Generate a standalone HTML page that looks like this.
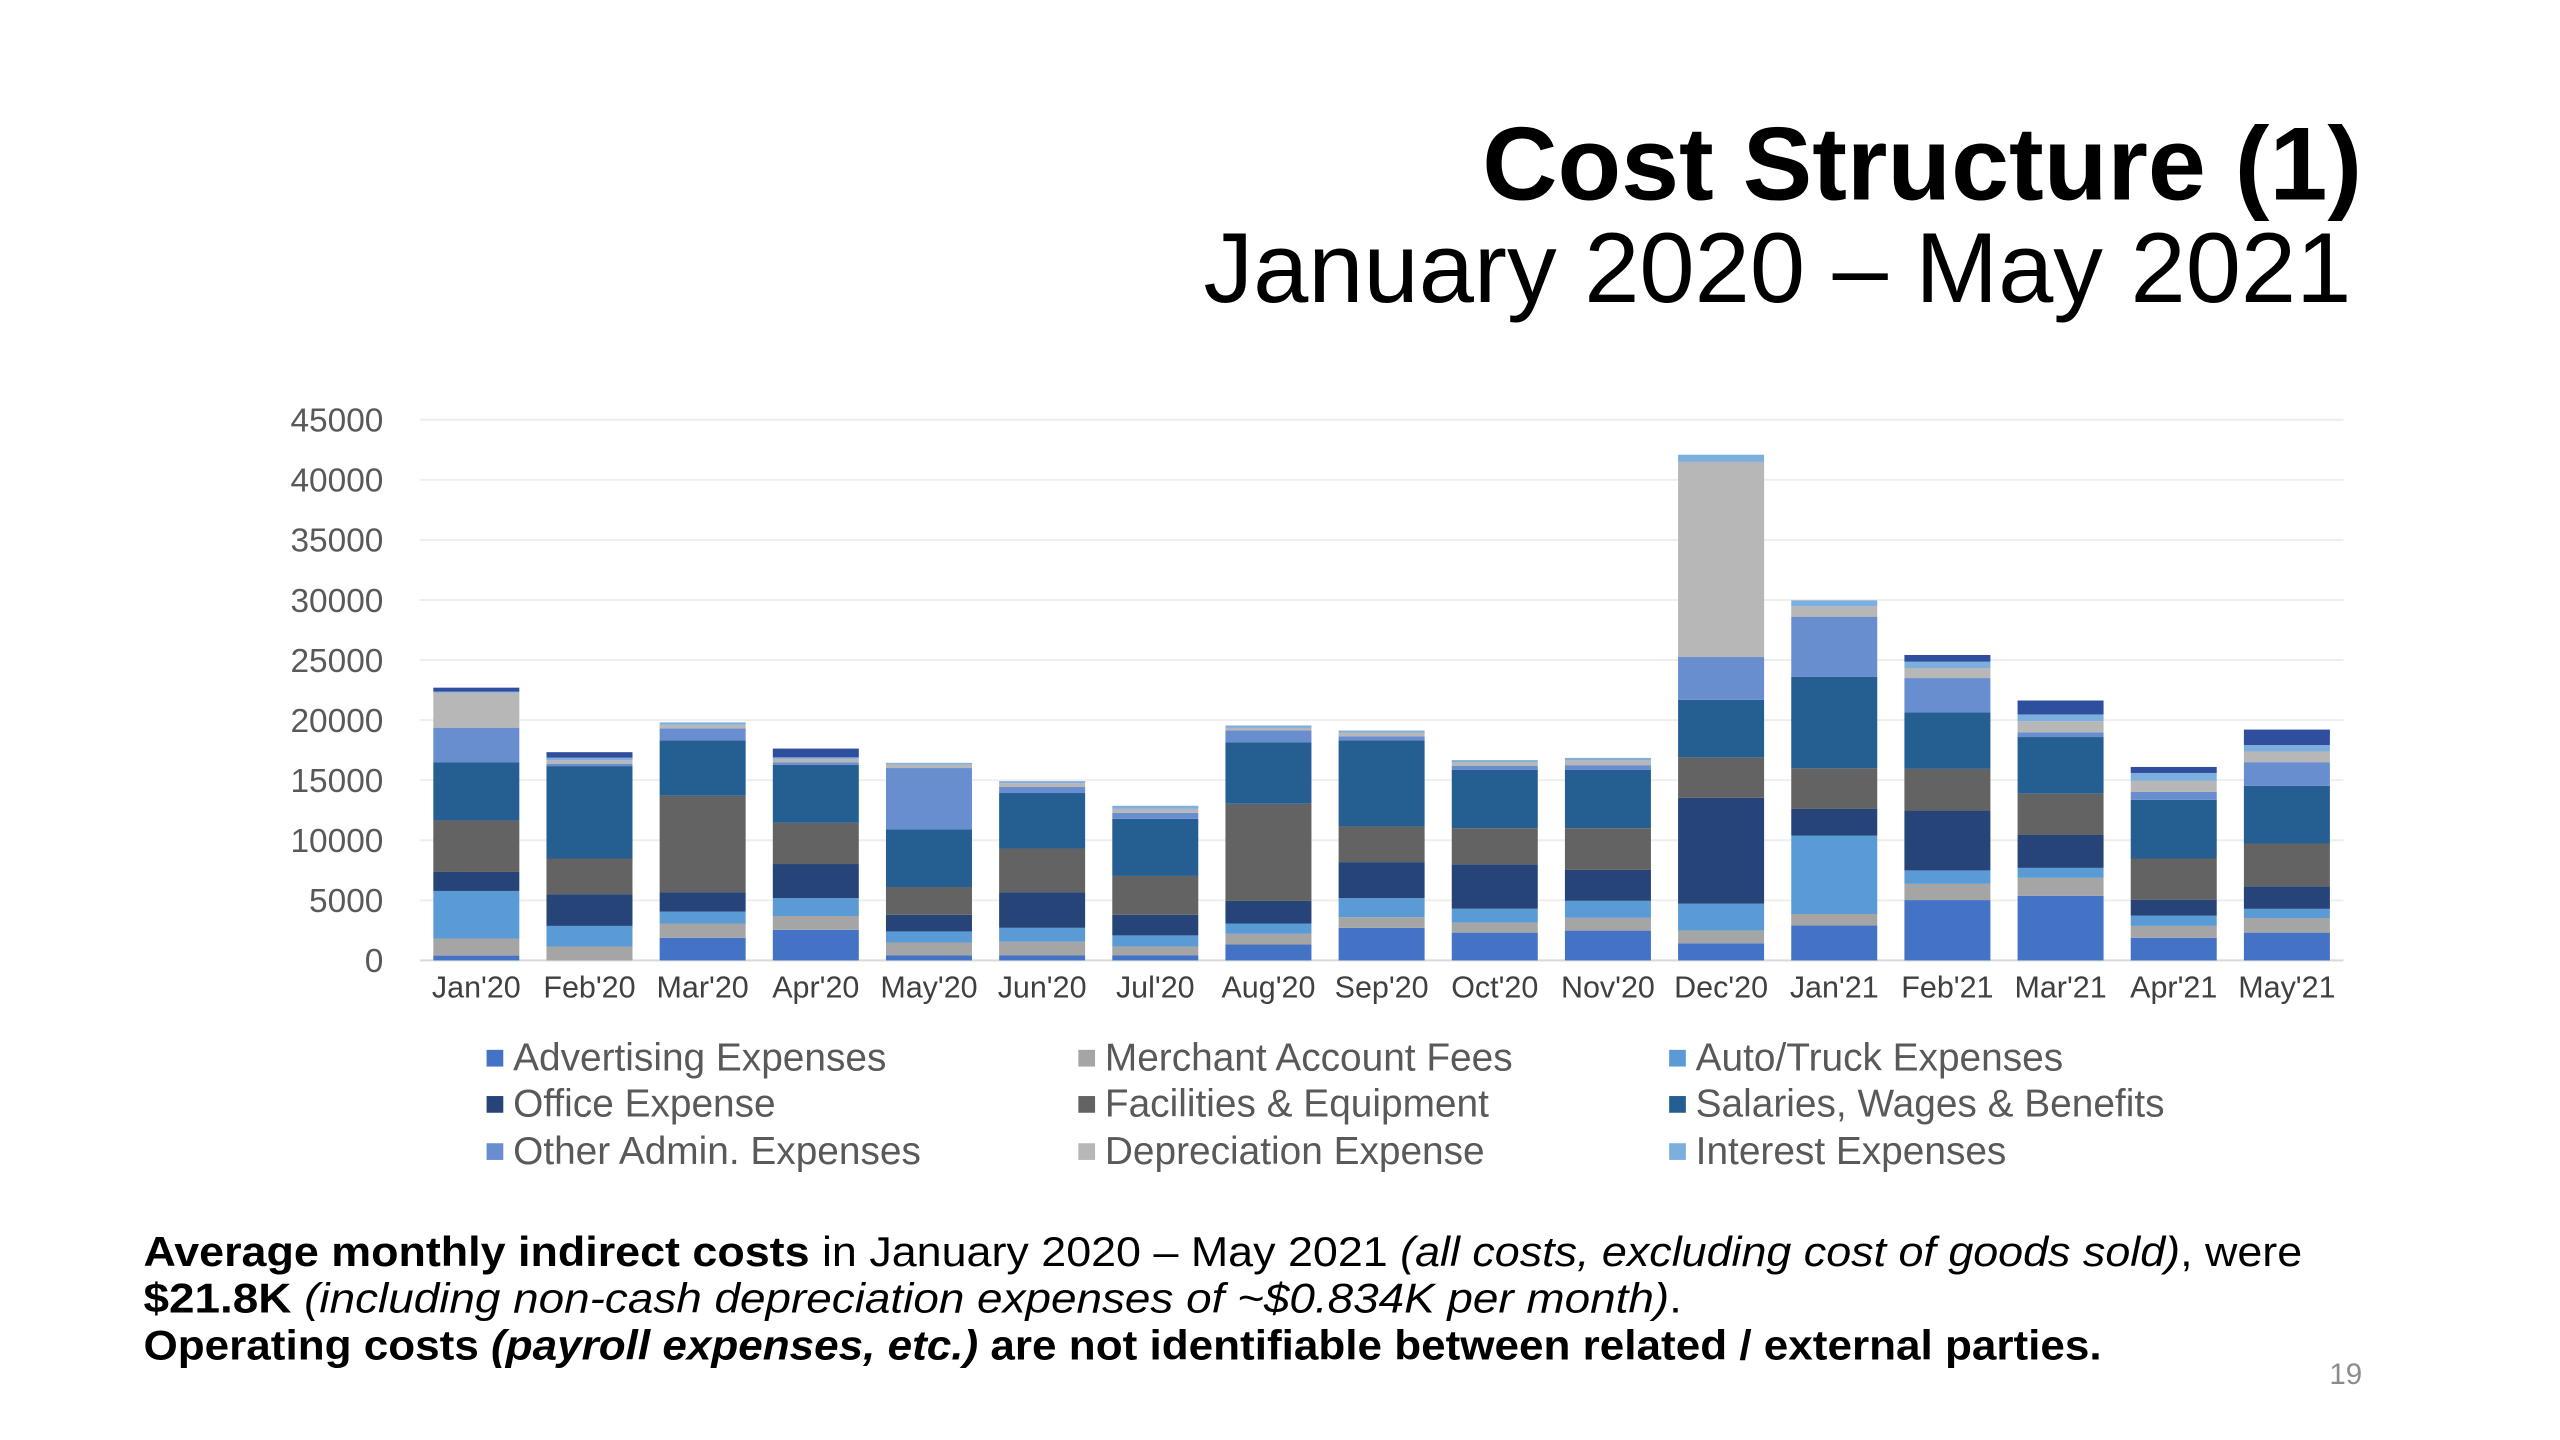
<!DOCTYPE html>
<html><head><meta charset="utf-8"><style>
html,body{margin:0;padding:0;background:#fff;}
svg{display:block;font-family:"Liberation Sans",sans-serif;}
</style></head><body>
<svg id="chart" width="2560" height="1440" viewBox="0 0 2560 1440" xmlns="http://www.w3.org/2000/svg">
<g transform="scale(0.983)">
<text x="2403" y="203" text-anchor="end" font-size="106" font-weight="bold" fill="#000">Cost Structure (1)</text>
<text x="2392" y="307" text-anchor="end" font-size="101" fill="#000">January 2020 – May 2021</text>
<g id="grid"></g>
<g id="yticks"></g>
<g id="bars"></g>
<g id="xticks"></g>
<g id="legend"></g>
<text x="146" y="1288" font-size="42" fill="#000" textLength="2196" lengthAdjust="spacingAndGlyphs"><tspan font-weight="bold">Average monthly indirect costs</tspan> in January 2020 – May 2021 <tspan font-style="italic">(all costs, excluding cost of goods sold)</tspan>, were</text>
<text x="146" y="1335" font-size="42" fill="#000" textLength="1565" lengthAdjust="spacingAndGlyphs"><tspan font-weight="bold">$21.8K</tspan> <tspan font-style="italic">(including non-cash depreciation expenses of ~$0.834K per month)</tspan>.</text>
<text x="146" y="1383" font-size="42" font-weight="bold" fill="#000" textLength="1992" lengthAdjust="spacingAndGlyphs">Operating costs <tspan font-style="italic">(payroll expenses, etc.)</tspan> are not identifiable between related / external parties.</text>
<text x="2403" y="1408" text-anchor="end" font-size="30" fill="#8c8c8c">19</text>
</g>
</svg>
<script>
const categories=["Jan'20","Feb'20","Mar'20","Apr'20","May'20","Jun'20","Jul'20","Aug'20","Sep'20","Oct'20","Nov'20","Dec'20","Jan'21","Feb'21","Mar'21","Apr'21","May'21"];
const advertising=[400,0,1880,2540,430,430,430,1320,2710,2310,2480,1420,2900,5020,5380,1880,2310];
const merchant=[1420,1155,1190,1155,1060,1120,730,890,890,830,1060,1060,960,1350,1490,990,1220];
const autoTruck=[3960,1716,990,1485,920,1160,920,860,1580,1160,1420,2240,6530,1120,830,860,760];
const office=[1580,2640,1620,2840,1390,2970,1720,1880,3000,3700,2570,8810,2240,4980,2770,1320,1880];
const facilities=[4290,2970,8020,3430,2310,3630,3230,8090,2970,3000,3470,3370,3370,3470,3400,3430,3560];
const salaries=[4820,7690,4620,4820,4790,4620,4750,5120,7160,4850,4850,4790,7590,4690,4720,4880,4790];
const otherAdmin=[2900,200,990,200,5110,500,500,990,330,330,400,3560,5020,2870,400,660,1980];
const depreciation=[2900,300,300,300,300,330,330,200,330,330,400,16240,860,830,920,920,890];
const interest=[100,200,200,130,130,160,260,200,160,160,200,600,500,530,560,660,530];
const otherTop=[330,460,0,730,0,0,0,0,0,0,0,0,0,560,1160,500,1290];
const yTicks=[0,5000,10000,15000,20000,25000,30000,35000,40000,45000];
const seriesNames=["Advertising Expenses","Merchant Account Fees","Auto/Truck Expenses","Office Expense","Facilities & Equipment","Salaries, Wages & Benefits","Other Admin. Expenses","Depreciation Expense","Interest Expenses"];

const series=[advertising,merchant,autoTruck,office,facilities,salaries,otherAdmin,depreciation,interest,otherTop];
const colors=["#4472C4","#A5A5A5","#5B9BD5","#264478","#636363","#255E91","#698ED0","#B7B7B7","#7CAFDD","#2F4E9E"];
const slugs=["advertising","merchant-fees","auto-truck","office","facilities","salaries","other-admin","depreciation","interest","other"];
const NS="http://www.w3.org/2000/svg";
const X0=427,X1=2384,Y0=977,Y1=427,YMAX=45000;
const band=(X1-X0)/categories.length, bw=band*0.76;
const y=v=>Y0-(v/YMAX)*(Y0-Y1);
const xc=i=>X0+band*(i+0.5);
function mk(tag,attrs,parent){const e=document.createElementNS(NS,tag);for(const k in attrs)e.setAttribute(k,attrs[k]);parent.appendChild(e);return e;}
const grid=document.getElementById('grid'),yt=document.getElementById('yticks'),bars=document.getElementById('bars'),xt=document.getElementById('xticks'),lg=document.getElementById('legend');
yTicks.forEach(t=>{
  const l=mk('line',{x1:X0,x2:X1,y1:y(t),y2:y(t),stroke:t===0?'#d9d9d9':'#eeeeee','stroke-width':2},grid);
  
  
  const tx=mk('text',{x:390,y:y(t)+12,'text-anchor':'end','font-size':34,fill:'#595959'},yt);
  tx.textContent=t;
  
  
});
categories.forEach((c,i)=>{
  let acc=0;
  series.forEach((s,k)=>{
    const v=s[i]; if(!v) return;
    const r=mk('rect',{x:xc(i)-bw/2,y:y(acc+v),width:bw,height:y(acc)-y(acc+v),fill:colors[k]},bars);
    
    
    acc+=v;
  });
  const tx=mk('text',{x:xc(i),y:1015,'text-anchor':'middle','font-size':31,fill:'#404040'},xt);
  tx.textContent=c;
  
  
});
seriesNames.forEach((n,k)=>{
  const col=k%3,row=Math.floor(k/3);
  const lx=[495,1097,1698][col], ly=[1076,1123,1171][row];
  const g=mk('g',{},lg);
  
  
  mk('rect',{x:lx,y:ly-8,width:17,height:17,fill:colors[k]},g);
  const tx=mk('text',{x:lx+27,y:ly+13,'font-size':39.5,fill:'#595959'},g);
  tx.textContent=n;
});
</script>
</body></html>
